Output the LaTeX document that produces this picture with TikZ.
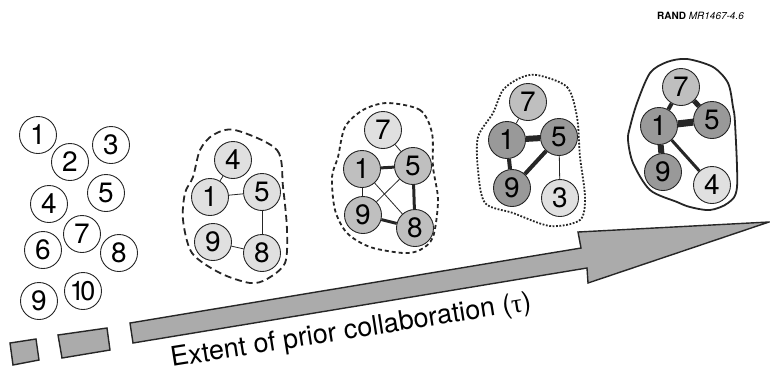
\documentclass[tikz,border=0pt]{standalone}
\usepackage{fontspec}
\setmainfont{TeX Gyre Heros}
\newfontfamily\greekfont{Liberation Serif}
\tikzset{
  opennode/.style={circle,draw=black!85,line width=0.9pt,minimum size=37pt,inner sep=0pt,font=\fontsize{28}{28}\selectfont},
  litenode/.style={opennode,fill=black!12},
  midnode/.style={opennode,fill=black!25},
  darknode/.style={opennode,fill=black!40},
  link/.style={draw=black!85,line width=0.8pt},
  blob/.style={draw=black!85,line width=1.8pt},
  bar/.style={draw=black!85,fill=black!33,line width=1.4pt,line join=miter},
}
\begin{document}
\begin{tikzpicture}[x=1pt,y=-1pt]
                    \useasboundingbox (0,0) rectangle (770,373);
                    \node[opennode] (a1) at (38,135) {1};
                    \node[opennode] (a2) at (70,162) {2};
                    \node[opennode] (a3) at (111,145) {3};
                    \node[opennode] (a4) at (49,204) {4};
                    \node[opennode] (a5) at (106,193) {5};
                    \node[opennode] (a6) at (43,250) {6};
                    \node[opennode] (a7) at (82,234) {7};
                    \node[opennode] (a8) at (119,253) {8};
                    \node[opennode] (a9) at (39,301) {9};
                    \node[opennode,font=\fontsize{27}{27}\selectfont] (a10) at (83,291) {\kern-1pt1\kern-4.5pt0};
                    \node[litenode] (b4) at (233,160) {4};
                    \node[litenode] (b1) at (210,197) {1};
                    \node[litenode] (b5) at (262,192) {5};
                    \node[litenode] (b9) at (213,242) {9};
                    \node[litenode] (b8) at (262,253) {8};
                    \draw[link] (b4) -- (b1);
                    \draw[link] (b1) -- (b5);
                    \draw[link] (b5) -- (b8);
                    \draw[link] (b9) -- (b8);
                    \draw[blob,dash pattern=on 7pt off 4pt] plot[smooth cycle] coordinates {(235,130) (277,150) (283,187) (287,230) (285,263) (267,279) (250,283) (220,273) (192,253) (183,220) (185,193) (193,177) (200,150) (213,135)};
                    \node[litenode] (c7) at (383,130) {7};
                    \node[midnode] (c1) at (362,169) {1};
                    \node[midnode] (c5) at (413,166) {5};
                    \node[midnode] (c9) at (363,215) {9};
                    \node[midnode] (c8) at (415,228) {8};
                    \draw[link] (c7) -- (c5);
                    \draw[link,line width=3pt] (c1) -- (c5);
                    \draw[link,line width=3pt] (c5) -- (c8);
                    \draw[link,line width=3pt] (c9) -- (c8);
                    \draw[link] (c1) -- (c9);
                    \draw[link] (c1) -- (c8);
                    \draw[link] (c5) -- (c9);
                    \draw[blob,dash pattern=on 4pt off 3pt] plot[smooth cycle] coordinates {(387,103) (420,110) (432,133) (433,167) (438,200) (433,237) (420,250) (403,253) (370,247) (347,233) (335,210) (332,177) (338,157) (345,127) (363,110)};
                    \node[midnode] (d7) at (528,102) {7};
                    \node[darknode] (d1) at (507,140) {1};
                    \node[darknode] (d5) at (559,137) {5};
                    \node[darknode] (d9) at (512,188) {9};
                    \node[litenode] (d3) at (560,198) {3};
                    \draw[link] (d7) -- (d1);
                    \draw[link,line width=6pt] (d1) -- (d5);
                    \draw[link,line width=4pt] (d1) -- (d9);
                    \draw[link,line width=4pt] (d9) -- (d5);
                    \draw[link] (d5) -- (d3);
                    \draw[blob,dash pattern=on 1.8pt off 1.6pt] plot[smooth cycle] coordinates {(537,75) (567,87) (577,117) (580,157) (585,197) (580,220) (550,226) (513,213) (485,203) (478,170) (478,137) (493,113) (503,90) (520,78)};
                    \node[midnode] (e7) at (681,87) {7};
                    \node[darknode] (e5) at (712,120) {5};
                    \node[darknode] (e1) at (659,126) {1};
                    \node[darknode] (e9) at (663,172) {9};
                    \node[litenode] (e4) at (712,185) {4};
                    \draw[link,line width=4pt] (e7) -- (e1);
                    \draw[link,line width=5pt] (e7) -- (e5);
                    \draw[link,line width=7pt] (e1) -- (e5);
                    \draw[link,line width=6pt] (e1) -- (e9);
                    \draw[link,line width=3pt] (e1) -- (e4);
                    \draw[blob] plot[smooth cycle] coordinates {(687,59) (713,67) (728,83) (733,107) (735,123) (737,187) (728,203) (710,210) (690,207) (677,202) (650,190) (633,163) (628,140) (630,127) (637,103) (650,73) (667,62)};
                    \draw[bar] (10,343) -- (36,339) -- (39,360) -- (13,365) -- cycle;
                    \draw[bar] (58,335) -- (107,328) -- (110,350) -- (62,358) -- cycle;
                    \draw[bar] (130,323) -- (581,248) -- (578,232) -- (769,222) -- (588,283) -- (587,268) -- (133,343) -- cycle;
                    \node[rotate=9,anchor=base west,inner sep=0pt,font=\fontsize{27}{27}\selectfont] (tau) at (172,367) {Extent of prior collaboration ({\greekfont τ})};
                    \node[anchor=base west,inner sep=0pt,font=\fontsize{10}{12}\selectfont] (tag) at (657,19) {\textbf{RAND} \textit{MR1467-4.6}};
                \end{tikzpicture}
\end{document}
